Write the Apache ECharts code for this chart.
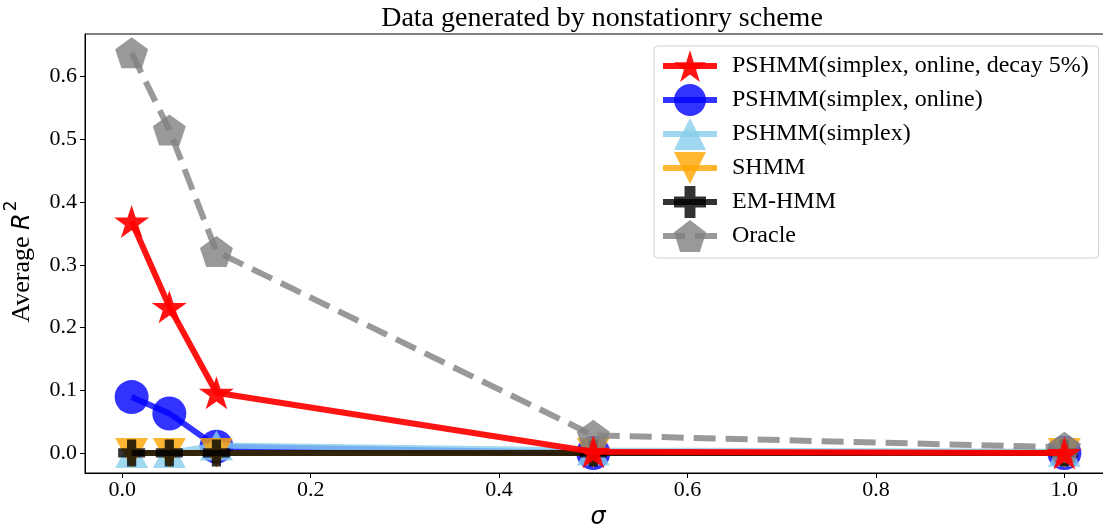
<!DOCTYPE html>
<html>
<head>
<meta charset="utf-8">
<script src="https://cdn.jsdelivr.net/npm/echarts@6/dist/echarts.min.js"></script>
<style>
html,body{margin:0;padding:0;background:#fff;}
#chart{width:1103px;height:529px;}
</style>
</head>
<body>
<div id="chart"></div>
<script>
// ---- data ----
const sigmas = [0.01, 0.05, 0.1, 0.5, 1.0];
const seriesNames = [
  'PSHMM(simplex, online, decay 5%)',
  'PSHMM(simplex, online)',
  'PSHMM(simplex)',
  'SHMM',
  'EM-HMM',
  'Oracle'
];
const decayOnline = [0.369, 0.233, 0.096, 0.002, 0.0];
const online      = [0.089, 0.063, 0.010, 0.0, 0.0];
const simplex     = [0.0, 0.0, 0.012, 0.004, 0.002];
const shmm        = [0.0, 0.0, 0.0, 0.0, 0.0];
const emhmm       = [0.0, 0.0, 0.0, 0.0, 0.0];
const oracle      = [0.638, 0.515, 0.321, 0.028, 0.009];
const xTicks = [0, 0.2, 0.4, 0.6, 0.8, 1.0];
const yTicks = [0, 0.1, 0.2, 0.3, 0.4, 0.5, 0.6];

// ---- marker shapes ----
const STAR = 'path://M50 0 L61.226 34.549 L97.553 34.549 L68.164 55.902 L79.389 90.451 L50 69.098 L20.611 90.451 L31.836 55.902 L2.447 34.549 L38.774 34.549 Z';
const PENTAGON = 'path://M50 0 L97.553 34.549 L79.389 90.451 L20.611 90.451 L2.447 34.549 Z';
const PLUS = 'path://M33 0 H67 V33 H100 V67 H67 V100 H33 V67 H0 V33 H33 Z';

function pairs(vals){ return sigmas.map((s,i)=>[s, vals[i]]); }

const serif = 'Liberation Serif';

function mk(name, vals, color, symbol, size, opts){
  opts = opts || {};
  return Object.assign({
    name: name,
    type: 'line',
    data: pairs(vals),
    symbol: symbol,
    symbolSize: size,
    showSymbol: true,
    showAllSymbol: true,
    lineStyle: {color: color, width: 6, opacity: opts.op || 0.8, type: opts.dash || 'solid'},
    itemStyle: {color: color, opacity: opts.op || 0.8, borderWidth: 0},
    emphasis: {disabled: true},
    animation: false,
    z: opts.z || 2
  }, opts.extra || {});
}

const chart = echarts.init(document.getElementById('chart'), null, {renderer: 'canvas'});
const option = {
  animation: false,
  backgroundColor: '#fff',
  title: {
    text: 'Data generated by nonstationry scheme',
    left: 597, top: 0,
    textAlign: 'center',
    textStyle: {fontFamily: serif, fontSize: 28, fontWeight: 'normal', color: '#000'}
  },
  grid: {
    left: 85, right: -8, top: 34, bottom: 56,
    outerBoundsMode: 'none',
    containLabel: false,
    show: true, borderColor: '#000', borderWidth: 1, backgroundColor: 'transparent'
  },
  legend: {
    data: seriesNames,
    orient: 'vertical',
    left: 654, top: 46,
    itemWidth: 54, itemHeight: 40, itemGap: 2,
    padding: [4, 10, 6, 6],
    borderColor: '#d0d0d0', borderWidth: 1, borderRadius: 4,
    backgroundColor: '#fff',
    lineStyle: {width: 6},
    textStyle: {fontFamily: serif, fontSize: 24, color: '#000', padding: [0,0,0,10]},
    selectedMode: false
  },
  xAxis: {
    type: 'value',
    min: -0.0395, max: 1.0495,
    name: 'σ',
    nameLocation: 'middle', nameGap: 32,
    nameTextStyle: {fontFamily: 'DejaVu Sans', fontStyle: 'italic', fontSize: 24, color: '#000'},
    axisLine: {show: true, onZero: false, lineStyle: {color: '#000', width: 1}},
    axisTick: {show: true, inside: false, length: 5, customValues: xTicks, lineStyle: {color: '#000'}},
    axisLabel: {customValues: xTicks, fontFamily: serif, fontSize: 22, color: '#000', margin: 6,
      formatter: v => v.toFixed(1)},
    splitLine: {show: false}
  },
  yAxis: {
    type: 'value',
    min: -0.032, max: 0.668,
    name: '{a|Average }{b|R}{c|2}',
    nameLocation: 'middle', nameGap: 50,
    nameTextStyle: {
      padding: [0, 16, 0, 0],
      rich: {
        a: {fontFamily: serif, fontSize: 26, color: '#000', lineHeight: 32, verticalAlign: 'bottom'},
        b: {fontFamily: 'DejaVu Sans', fontStyle: 'italic', fontSize: 24, color: '#000', lineHeight: 32, verticalAlign: 'bottom'},
        c: {fontFamily: 'DejaVu Sans', fontSize: 17, color: '#000', lineHeight: 32, verticalAlign: 'top', padding: [0,0,0,2]}
      }
    },
    axisLine: {show: true, onZero: false, lineStyle: {color: '#000', width: 1}},
    axisTick: {show: true, inside: false, length: 5, customValues: yTicks, lineStyle: {color: '#000'}},
    axisLabel: {customValues: yTicks, fontFamily: serif, fontSize: 22, color: '#000', margin: 8,
      formatter: v => v.toFixed(1)},
    splitLine: {show: false}
  },
  series: [
    mk(seriesNames[0], decayOnline, '#ff0000', STAR, [35, 33], {z: 8, op: 0.92}),
    mk(seriesNames[1], online, '#0000ff', 'circle', 34, {z: 2}),
    mk(seriesNames[2], simplex, '#87ceeb', 'triangle', [33, 30], {z: 3}),
    mk(seriesNames[3], shmm, '#ffa500', 'triangle', [33, 30], {z: 4, extra: {symbolRotate: 180}}),
    mk(seriesNames[4], emhmm, '#000000', PLUS, 27, {z: 5}),
    mk(seriesNames[5], oracle, '#808080', PENTAGON, [33, 31], {z: 6, dash: [22, 10]})
  ]
};
chart.setOption(option);
</script>
</body>
</html>
